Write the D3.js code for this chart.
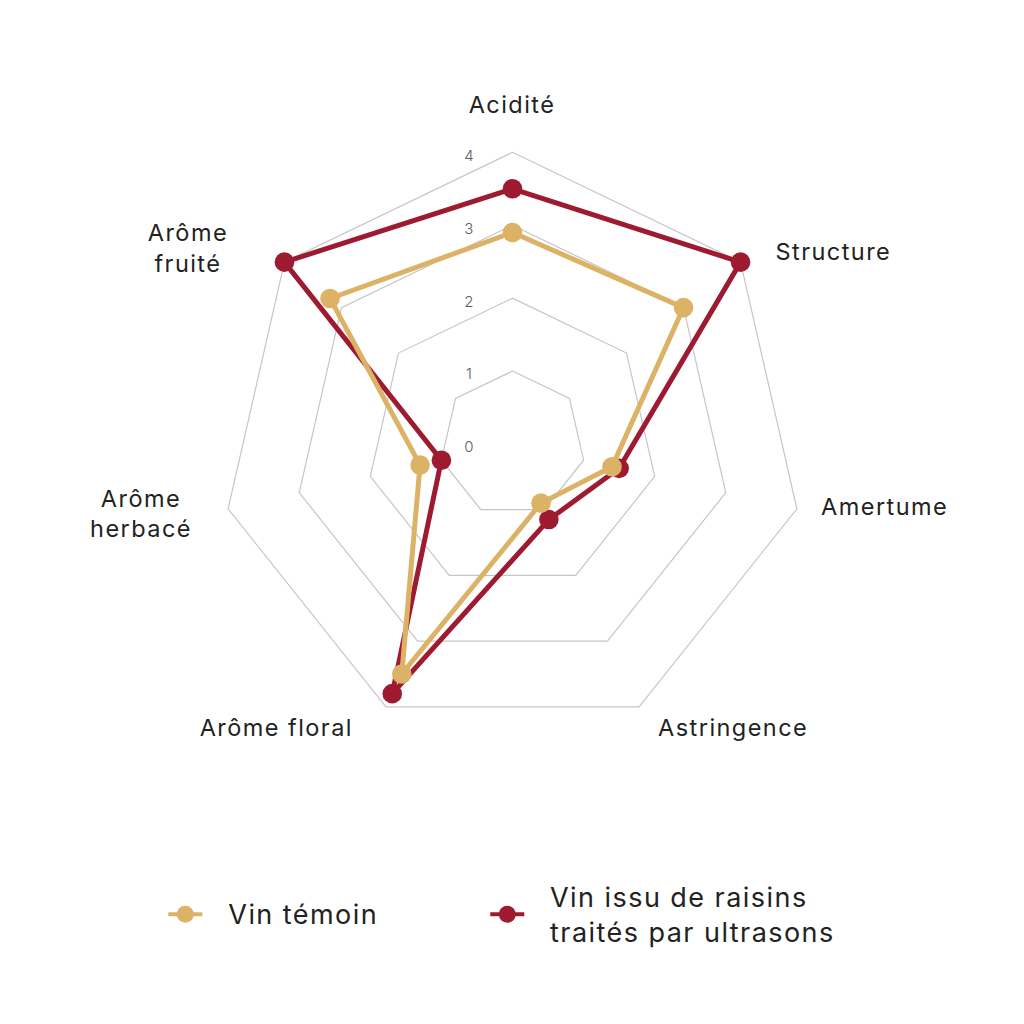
<!DOCTYPE html>
<html>
<head>
<meta charset="utf-8">
<script src="https://cdn.jsdelivr.net/npm/d3@7"></script>
<style>
  html, body { margin: 0; padding: 0; background: #ffffff; }
  svg { display: block; }
</style>
</head>
<body>
<svg id="chart" width="1024" height="1024"></svg>
<script>
// ---- data ----
const axes = ["Acidité", "Structure", "Amertume", "Astringence", "Arôme floral", "Arôme herbacé", "Arôme fruité"];
const axisLabelLines = [["Acidité"], ["Structure"], ["Amertume"], ["Astringence"], ["Arôme floral"], ["Arôme", "herbacé"], ["Arôme", "fruité"]];
const temoinValues = [2.9, 3.0, 1.4, 0.9, 3.5, 1.3, 3.2];
const ultrasonsValues = [3.5, 4.0, 1.5, 1.15, 3.8, 1.0, 4.0];
const tickValues = [0, 1, 2, 3, 4];
const gridLevels = [1, 2, 3, 4];
const seriesNames = ["Vin témoin", "Vin issu de raisins traités par ultrasons"];
const legendLines = [["Vin témoin"], ["Vin issu de raisins", "traités par ultrasons"]];

// ---- layout / style ----
const cx = 512.5, cy = 444, R = 291.7;
const colTan = "#dcb366", colRed = "#9d1a30";
const font = "Inter, 'Noto Sans', sans-serif";
// label block centre offset relative to the outer vertex of each axis
const labelOffsets = [[-0.5, -48], [92.8, -10], [87.8, -2.2], [94.1, 21], [-109.6, 20.7], [-87.1, 4.8], [-96.5, -13.8]];

const svg = d3.select("#chart");
svg.append("rect").attr("width", 1024).attr("height", 1024).attr("fill", "#fff");

const r = d3.scaleLinear().domain([0, 4]).range([0, R]);
const n = axes.length;
const angle = d3.scaleLinear().domain([0, n]).range([0, 2 * Math.PI]);
const px = (i, v) => cx + r(v) * Math.sin(angle(i));
const py = (i, v) => cy - r(v) * Math.cos(angle(i));

const g = svg.append("g").attr("transform", `translate(${cx},${cy})`);

const radial = d3.lineRadial()
  .angle((d, i) => angle(i))
  .radius(d => r(d))
  .curve(d3.curveLinearClosed);

// grid polygons
g.selectAll("path.grid")
  .data(gridLevels)
  .join("path")
  .attr("class", "grid")
  .attr("d", lv => radial(axes.map(() => lv)))
  .attr("fill", "none")
  .attr("stroke", "#c6c6c6")
  .attr("stroke-width", 1.2);

// tick labels
svg.selectAll("text.tick")
  .data(tickValues)
  .join("text")
  .attr("class", "tick")
  .attr("x", cx - 43.5)
  .attr("y", d => cy - r(d) + 3 + 5.4)
  .attr("text-anchor", "middle")
  .attr("font-family", font)
  .attr("font-weight", 300)
  .attr("font-size", 15)
  .attr("letter-spacing", 0.3)
  .attr("fill", "#5c5c5c")
  .text(d => d);

// series
const series = [
  { name: seriesNames[1], values: ultrasonsValues, color: colRed },
  { name: seriesNames[0], values: temoinValues, color: colTan }
];
series.forEach(s => {
  g.append("path")
    .attr("d", radial(s.values))
    .attr("fill", "none")
    .attr("stroke", s.color)
    .attr("stroke-width", 5)
    .attr("stroke-linejoin", "round");
  g.selectAll(null)
    .data(s.values)
    .join("circle")
    .attr("cx", (d, i) => r(d) * Math.sin(angle(i)))
    .attr("cy", (d, i) => -r(d) * Math.cos(angle(i)))
    .attr("r", 9.8)
    .attr("fill", s.color);
});

// axis labels
const labFs = 23.5, labLh = 30.6;
axisLabelLines.forEach((lines, i) => {
  const vx = px(i, 4) + labelOffsets[i][0];
  const vy = py(i, 4) + labelOffsets[i][1];
  const top = vy - (lines.length - 1) * labLh / 2;
  const t = svg.append("text")
    .attr("text-anchor", "middle")
    .attr("font-family", font)
    .attr("font-size", labFs)
    .attr("letter-spacing", 1.45)
    .attr("fill", "#222");
  lines.forEach((ln, k) => {
    t.append("tspan")
      .attr("x", vx)
      .attr("y", top + k * labLh + 0.355 * labFs)
      .text(ln);
  });
});

// legend
const legFs = 27;
const legendItems = [
  { color: colTan, lines: legendLines[0], mx: 185.3, tx: 228.3, baselines: [924] },
  { color: colRed, lines: legendLines[1], mx: 507.3, tx: 550, baselines: [907.3, 941.7] }
];
const legY = 914.3;
legendItems.forEach(it => {
  svg.append("line")
    .attr("x1", it.mx - 17).attr("x2", it.mx + 17)
    .attr("y1", legY).attr("y2", legY)
    .attr("stroke", it.color).attr("stroke-width", 4);
  svg.append("circle")
    .attr("cx", it.mx).attr("cy", legY).attr("r", 8.5)
    .attr("fill", it.color);
  const t = svg.append("text")
    .attr("font-family", font)
    .attr("font-size", legFs)
    .attr("letter-spacing", 1.45)
    .attr("fill", "#222");
  it.lines.forEach((ln, k) => {
    t.append("tspan").attr("x", it.tx).attr("y", it.baselines[k]).text(ln);
  });
});
</script>
</body>
</html>
